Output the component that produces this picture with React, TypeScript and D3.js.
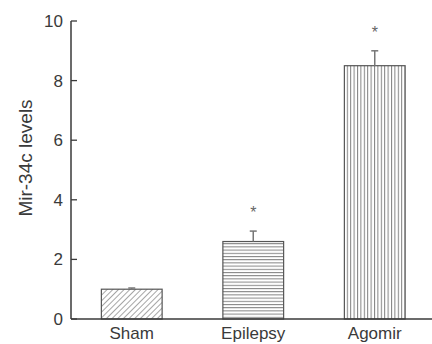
import React, { useEffect, useRef } from 'react';
import * as d3 from 'd3';

const categories = ['Sham', 'Epilepsy', 'Agomir'];
const values = [1.0, 2.6, 8.5];
const errors = [0.04, 0.35, 0.5];
const significant = [false, true, true];
const yTicks = [0, 2, 4, 6, 8, 10];
const patterns = ['diag', 'horiz', 'vert'];

const App = () => {
  const svgRef = useRef<SVGSVGElement | null>(null);

  useEffect(() => {
    const svg = d3.select(svgRef.current);
    svg.selectAll('*').remove();
    const width = 432;
    const height = 344;
    const x0 = 71;
    const y0 = 319;
    const font = 'Liberation Sans, Arial, sans-serif';
    const ink = '#3a3a3a';
    const hatch = '#808080';

    const x = d3.scaleBand<string>().domain(categories).range([x0, 435.5])
      .paddingInner(0.5).paddingOuter(0.25);
    const y = d3.scaleLinear().domain([0, 10]).range([y0, 21]);

    svg.attr('width', width).attr('height', height);

    // hatch patterns
    const defs = svg.append('defs');
    const diag = defs.append('pattern').attr('id', 'diag').attr('patternUnits', 'userSpaceOnUse')
      .attr('width', 4).attr('height', 4).attr('patternTransform', 'rotate(45)');
    diag.append('rect').attr('width', 4).attr('height', 4).attr('fill', '#fff');
    diag.append('line').attr('x1', 0).attr('y1', 0).attr('x2', 0).attr('y2', 4)
      .attr('stroke', hatch).attr('stroke-width', 1.4);
    const horiz = defs.append('pattern').attr('id', 'horiz').attr('patternUnits', 'userSpaceOnUse')
      .attr('width', 6).attr('height', 3.2);
    horiz.append('rect').attr('width', 6).attr('height', 3.2).attr('fill', '#fff');
    horiz.append('line').attr('x1', 0).attr('y1', 0.5).attr('x2', 6).attr('y2', 0.5)
      .attr('stroke', hatch).attr('stroke-width', 1);
    const vert = defs.append('pattern').attr('id', 'vert').attr('patternUnits', 'userSpaceOnUse')
      .attr('width', 3.4).attr('height', 6);
    vert.append('rect').attr('width', 3.4).attr('height', 6).attr('fill', '#fff');
    vert.append('line').attr('x1', 0.5).attr('y1', 0).attr('x2', 0.5).attr('y2', 6)
      .attr('stroke', hatch).attr('stroke-width', 1);

    const g = svg.append('g');

    // bars
    g.selectAll('.bar').data(categories).join('rect')
      .attr('class', 'bar')
      .attr('x', (d) => x(d)!)
      .attr('y', (_, i) => y(values[i]))
      .attr('width', x.bandwidth())
      .attr('height', (_, i) => y0 - y(values[i]))
      .attr('fill', (_, i) => `url(#${patterns[i]})`)
      .attr('stroke', '#555')
      .attr('stroke-width', 1.2);

    // error bars
    const cx = (d: string) => x(d)! + x.bandwidth() / 2;
    g.selectAll('.err').data(categories).join('line')
      .attr('class', 'err')
      .attr('x1', cx).attr('x2', cx)
      .attr('y1', (_, i) => y(values[i]))
      .attr('y2', (_, i) => y(values[i] + errors[i]))
      .attr('stroke', '#777').attr('stroke-width', 1.5);
    g.selectAll('.cap').data(categories).join('line')
      .attr('class', 'cap')
      .attr('x1', (d) => cx(d) - 3.5).attr('x2', (d) => cx(d) + 3.5)
      .attr('y1', (_, i) => y(values[i] + errors[i]))
      .attr('y2', (_, i) => y(values[i] + errors[i]))
      .attr('stroke', '#777').attr('stroke-width', 1.5);

    // significance stars
    g.selectAll('.star').data(categories.filter((_, i) => significant[i])).join('text')
      .attr('class', 'star')
      .attr('x', cx)
      .attr('y', (d) => {
        const i = categories.indexOf(d);
        return y(values[i] + errors[i]) - 13;
      })
      .attr('text-anchor', 'middle')
      .style('font-family', font).style('font-size', '16px').style('fill', '#666')
      .text('*');

    // axes
    g.append('line').attr('x1', x0).attr('x2', 432).attr('y1', y0).attr('y2', y0)
      .attr('stroke', ink).attr('stroke-width', 1.5);
    g.append('line').attr('x1', x0).attr('x2', x0).attr('y1', y(10)).attr('y2', y0)
      .attr('stroke', ink).attr('stroke-width', 1.5);

    g.selectAll('.tick').data(yTicks).join('line')
      .attr('class', 'tick')
      .attr('x1', x0).attr('x2', x0 + 6)
      .attr('y1', (d) => y(d)).attr('y2', (d) => y(d))
      .attr('stroke', ink).attr('stroke-width', 1.3);
    g.selectAll('.tick-label').data(yTicks).join('text')
      .attr('class', 'tick-label')
      .attr('x', x0 - 8)
      .attr('y', (d) => y(d))
      .attr('dy', '0.35em')
      .attr('text-anchor', 'end')
      .style('font-family', font).style('font-size', '17px').style('fill', ink)
      .text((d) => d);

    g.selectAll('.cat-label').data(categories).join('text')
      .attr('class', 'cat-label')
      .attr('x', cx)
      .attr('y', 339)
      .attr('text-anchor', 'middle')
      .style('font-family', font).style('font-size', '17px').style('fill', ink)
      .text((d) => d);

    g.append('text')
      .attr('transform', 'translate(32, 158) rotate(-90)')
      .attr('text-anchor', 'middle')
      .style('font-family', font).style('font-size', '19px').style('fill', ink)
      .text('Mir-34c levels');
  }, []);

  return <svg ref={svgRef} style={{ position: 'absolute', left: 0, top: 0 }} />;
};

export default App;
